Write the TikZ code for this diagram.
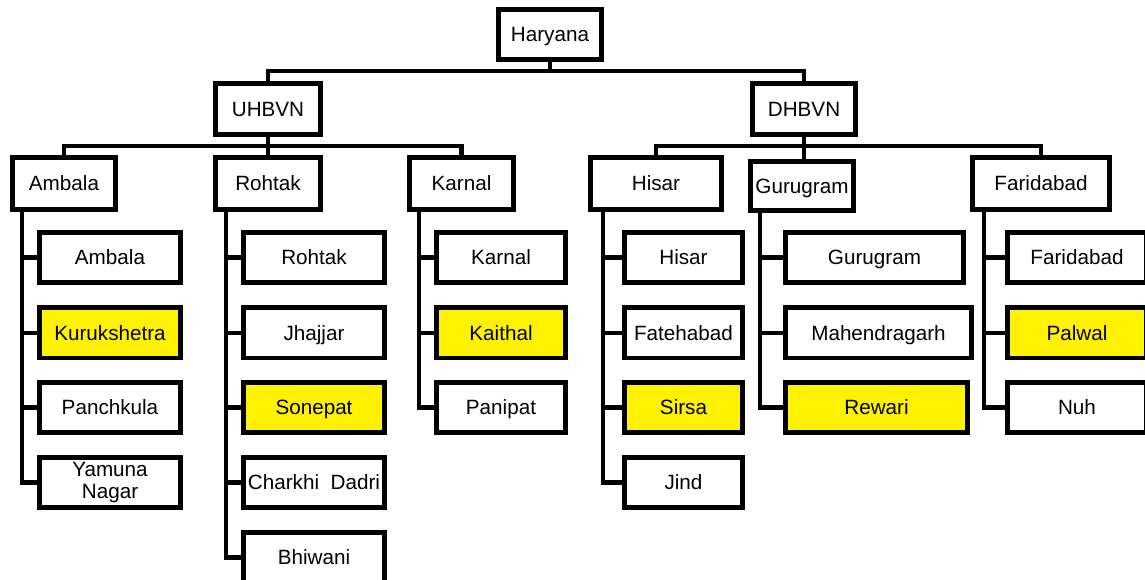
\documentclass[tikz,border=0pt]{standalone}
\usepackage{fontspec}
\setmainfont{Liberation Sans}
\begin{document}
\begin{tikzpicture}[x=0.75pt,y=-0.75pt,
  boxbase/.style={draw=black, line width=3.5pt, fill=white, inner sep=1pt,
    minimum height=37.75pt, align=center,
    font=\fontsize{15.5}{16.5}\selectfont},
  box/.style={boxbase, text height=11.1pt, text depth=0pt},
  dist/.style={box, minimum height=39.25pt},
  hl/.style={box, fill=yellow},
  link/.style={line width=3.5pt}]
\useasboundingbox (0,0) rectangle (1145,580);

% bus levels and trunk columns
\coordinate (busT) at (0,71);
\coordinate (busU) at (0,146);
\coordinate (busD) at (0,146);
\coordinate (tA) at (22,0);
\coordinate (tR) at (226,0);
\coordinate (tK) at (419,0);
\coordinate (tH) at (603,0);
\coordinate (tG) at (760,0);
\coordinate (tF) at (984,0);

% top levels
\node[box, minimum width=77.5pt] (H) at (550,34.5) {Haryana};
\node[box, minimum width=79pt, minimum height=38.5pt] (U) at (268,109) {UHBVN};
\node[box, minimum width=77.5pt, minimum height=38.5pt] (D) at (804,109) {DHBVN};

% districts
\node[dist, minimum width=77.5pt] (Ad) at (64,183.5) {Ambala};
\node[dist, minimum width=79pt] (Rd) at (268,183.5) {Rohtak};
\node[dist, minimum width=78.25pt] (Kd) at (461.5,183.5) {Karnal};
\node[dist, minimum width=98.5pt] (Hd) at (656,183.5) {Hisar};
\node[box, minimum width=77.5pt, minimum height=37pt, inner sep=0pt] (Gd) at (802,186) {Gurugram};
\node[dist, minimum width=103pt] (Fd) at (1041,183.5) {Faridabad};

% Ambala leaves
\node[box, minimum width=106pt] (A1) at (110,257.5) {Ambala};
\node[hl,  minimum width=106pt] (A2) at (110,333) {Kurukshetra};
\node[box, minimum width=106pt] (A3) at (110,407.5) {Panchkula};
\node[boxbase, minimum width=106pt] (A4) at (110,482.5) {Yamuna\\Nagar};

% Rohtak leaves
\node[box, minimum width=106pt] (R1) at (314,257.5) {Rohtak};
\node[box, minimum width=106pt] (R2) at (314,333) {Jhajjar};
\node[hl,  minimum width=106pt] (R3) at (314,407.5) {Sonepat};
\node[box, minimum width=106pt] (R4) at (314,482.5) {Charkhi\ \ Dadri};
\node[box, minimum width=106pt] (R5) at (314,557.5) {Bhiwani};

% Karnal leaves
\node[box, minimum width=97pt] (K1) at (501,257.5) {Karnal};
\node[hl,  minimum width=97pt] (K2) at (501,333) {Kaithal};
\node[box, minimum width=97pt] (K3) at (501,407.5) {Panipat};

% Hisar leaves
\node[box, minimum width=88.75pt] (S1) at (683.5,257.5) {Hisar};
\node[box, minimum width=88.75pt] (S2) at (683.5,333) {Fatehabad};
\node[hl,  minimum width=88.75pt] (S3) at (683.5,407.5) {Sirsa};
\node[box, minimum width=88.75pt] (S4) at (683.5,482.5) {Jind};

% Gurugram leaves
\node[box, minimum width=133.75pt] (G1) at (874.5,257.5) {Gurugram};
\node[box, minimum width=139.75pt] (G2) at (878.5,333) {Mahendragarh};
\node[hl,  minimum width=136.75pt] (G3) at (876.5,407.5) {Rewari};

% Faridabad leaves
\node[box, minimum width=104.5pt] (F1) at (1077,257.5) {Faridabad};
\node[hl,  minimum width=104.5pt] (F2) at (1077,333) {Palwal};
\node[box, minimum width=104.5pt] (F3) at (1077,407.5) {Nuh};

% top connectors
\draw[link] (H.south) -- (H.south |- busT);
\draw[link] (U.north) |- (D.north |- busT) -- (D.north);

% UHBVN connectors
\draw[link] (U.south) -- (Rd.north);
\draw[link] (Ad.north) |- (Kd.north |- busU) -- (Kd.north);

% DHBVN connectors
\draw[link] (D.south) -- (D.south |- Gd.north);
\draw[link] (Hd.north) |- (Fd.north |- busD) -- (Fd.north);

% trunks
\foreach \n in {A1,A2,A3,A4} \draw[link] (tA |- Ad.south) |- (\n.west);
\foreach \n in {R1,R2,R3,R4,R5} \draw[link] (tR |- Rd.south) |- (\n.west);
\foreach \n in {K1,K2,K3} \draw[link] (tK |- Kd.south) |- (\n.west);
\foreach \n in {S1,S2,S3,S4} \draw[link] (tH |- Hd.south) |- (\n.west);
\foreach \n in {G1,G2,G3} \draw[link] (tG |- Gd.south) |- (\n.west);
\foreach \n in {F1,F2,F3} \draw[link] (tF |- Fd.south) |- (\n.west);
\end{tikzpicture}
\end{document}
